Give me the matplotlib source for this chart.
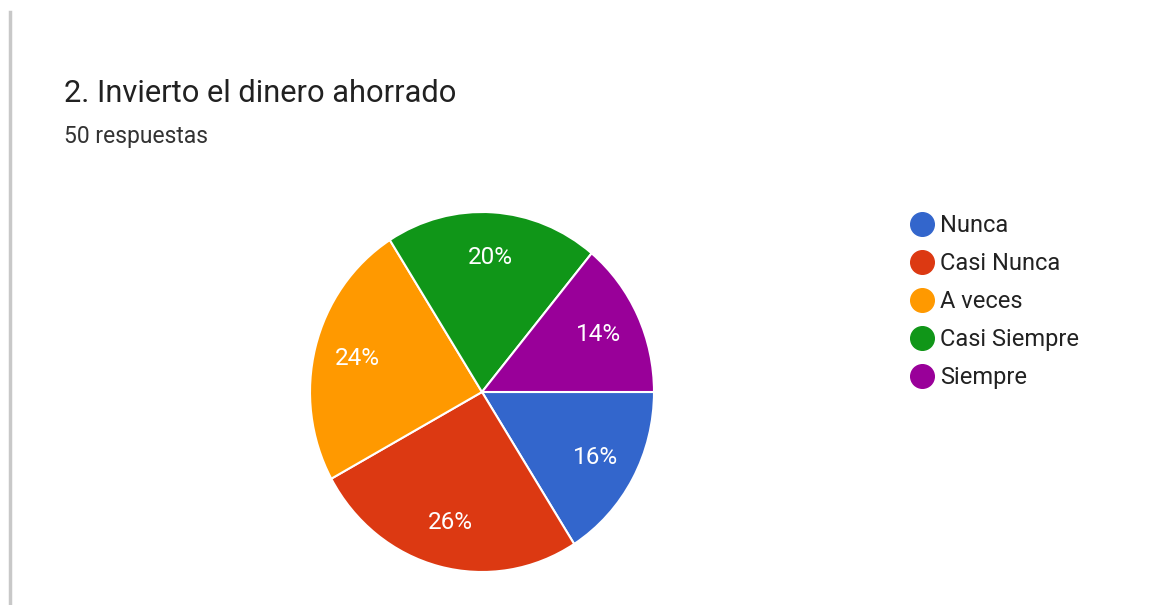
import matplotlib
matplotlib.use("Agg")
import matplotlib.pyplot as plt
from matplotlib.lines import Line2D

plt.rcParams['font.family'] = ['Roboto', 'DejaVu Sans']

# data
categories = ['Nunca', 'Casi Nunca', 'A veces', 'Casi Siempre', 'Siempre']
values = [16, 26, 24, 20, 14]
colors = ['#3366CC', '#DC3912', '#FF9900', '#109618', '#990099']
title = '2. Invierto el dinero ahorrado'
subtitle = '50 respuestas'

W, H = 1150, 605
fig = plt.figure(figsize=(W / 100, H / 100), dpi=100)

# pie: center (482, 392) px, the screenshot is a bit stretched vertically
cx, cy, rx, ry = 482, 392, 172, 180
ax = fig.add_axes([(cx - rx) / W, (H - cy - ry) / H, 2 * rx / W, 2 * ry / H])
wedges, texts, autotexts = ax.pie(
    values, colors=colors, startangle=0, counterclock=False,
    autopct='%1.0f%%', pctdistance=0.75,
    wedgeprops=dict(edgecolor='white', linewidth=1.5),
    textprops=dict(color='white', fontsize=17.5))
ax.set_aspect('auto')
ax.set_xlim(-1, 1)
ax.set_ylim(-1, 1)

# title block
fig.text(64 / W, 1 - 102 / H, title, fontsize=22.2, color='#212121',
         ha='left', va='baseline')
fig.text(64 / W, 1 - 143 / H, subtitle, fontsize=16.5, color='#333333',
         ha='left', va='baseline')

# legend with round markers
handles = [Line2D([], [], marker='o', linestyle='none', markersize=17,
                  markerfacecolor=c, markeredgecolor=c) for c in colors]
fig.legend(handles, categories, loc='upper left',
           bbox_to_anchor=(898 / W, 1 - 202 / H), frameon=False,
           fontsize=17, labelspacing=0.64, handlelength=1.0,
           handletextpad=0.3, borderpad=0, labelcolor='#222222')

# left edge shadow of the card
fig.add_artist(Line2D([10 / W, 10 / W], [0, 1 - 12 / H], color='#c8c8c8',
                      linewidth=2.5, transform=fig.transFigure))

fig.savefig('out.png', dpi=100, facecolor='white')
